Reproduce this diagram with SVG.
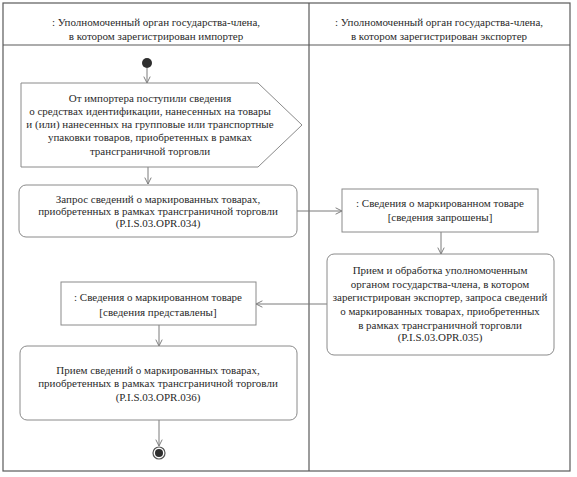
<svg xmlns="http://www.w3.org/2000/svg" width="577" height="477" viewBox="0 0 577 477">
<style>
.t{font-family:"Liberation Serif","Times New Roman",serif;font-size:11px;fill:#2a2a2a;text-anchor:middle}
.frame{fill:none;stroke:#5a5a5a;stroke-width:1.2}
.box{fill:#fff;stroke:#8a8a8a;stroke-width:1}
.c{fill:none;stroke:#7a7a7a;stroke-width:1}
</style>
<defs>
<marker id="arr" viewBox="0 0 10 10" refX="9" refY="5" markerWidth="8" markerHeight="8" orient="auto" markerUnits="userSpaceOnUse">
<path d="M1,1 L9,5 L1,9" fill="none" stroke="#7a7a7a" stroke-width="1.2"/>
</marker>
</defs>
<rect width="577" height="477" fill="#fff"/>
<g id="lanes">
<rect class="frame" x="3" y="3" width="567" height="468"/>
<line class="frame" x1="3" y1="45" x2="570" y2="45"/>
<line class="frame" x1="309" y1="3" x2="309" y2="471"/>
<text class="t" x="156" y="26">: Уполномоченный орган государства-члена,</text>
<text class="t" x="156" y="40">в котором зарегистрирован импортер</text>
<text class="t" x="439" y="26">: Уполномоченный орган государства-члена,</text>
<text class="t" x="439" y="40">в котором зарегистрирован экспортер</text>
</g>
<g id="connectors">
<line class="c" x1="147" y1="68" x2="147" y2="83" marker-end="url(#arr)"/>
<line class="c" x1="148" y1="167" x2="148" y2="184" marker-end="url(#arr)"/>
<line class="c" x1="297" y1="211" x2="342" y2="211" marker-end="url(#arr)"/>
<line class="c" x1="441" y1="232" x2="441" y2="254" marker-end="url(#arr)"/>
<line class="c" x1="327" y1="304" x2="256" y2="304" marker-end="url(#arr)"/>
<line class="c" x1="159" y1="325" x2="159" y2="346" marker-end="url(#arr)"/>
<line class="c" x1="159" y1="420" x2="159" y2="446" marker-end="url(#arr)"/>
</g>
<g id="start"><circle cx="147" cy="63" r="5" fill="#2e2e2e"/></g>
<g id="signal">
<path class="box" d="M21,83 L258,83 L302,125 L258,167 L21,167 Z"/>
<text class="t" x="150" y="102">От импортера поступили сведения</text>
<text class="t" x="150" y="115">о средствах идентификации, нанесенных на товары</text>
<text class="t" x="150" y="128">и (или) нанесенных на групповые или транспортные</text>
<text class="t" x="150" y="141">упаковки товаров, приобретенных в рамках</text>
<text class="t" x="150" y="155">трансграничной торговли</text>
</g>
<g id="opr034">
<rect class="box" x="19" y="185" width="278" height="52" rx="7"/>
<text class="t" x="158" y="203">Запрос сведений о маркированных товарах,</text>
<text class="t" x="158" y="215">приобретенных в рамках трансграничной торговли</text>
<text class="t" x="158" y="227">(P.I.S.03.OPR.034)</text>
</g>
<g id="obj-requested">
<rect class="box" x="342" y="189" width="196" height="43"/>
<text class="t" x="440" y="207">: Сведения о маркированном товаре</text>
<text class="t" x="440" y="221">[сведения запрошены]</text>
</g>
<g id="opr035">
<rect class="box" x="327" y="254" width="227" height="101" rx="7"/>
<text class="t" x="440" y="274">Прием и обработка уполномоченным</text>
<text class="t" x="440" y="288">органом государства-члена, в котором</text>
<text class="t" x="440" y="301">зарегистрирован экспортер, запроса сведений</text>
<text class="t" x="440" y="315">о маркированных товарах, приобретенных</text>
<text class="t" x="440" y="329">в рамках трансграничной торговли</text>
<text class="t" x="440" y="341">(P.I.S.03.OPR.035)</text>
</g>
<g id="obj-provided">
<rect class="box" x="61" y="282" width="195" height="43"/>
<text class="t" x="158" y="301">: Сведения о маркированном товаре</text>
<text class="t" x="158" y="316">[сведения представлены]</text>
</g>
<g id="opr036">
<rect class="box" x="20" y="346" width="277" height="74" rx="7"/>
<text class="t" x="158" y="374">Прием сведений о маркированных товарах,</text>
<text class="t" x="158" y="387">приобретенных в рамках трансграничной торговли</text>
<text class="t" x="158" y="401">(P.I.S.03.OPR.036)</text>
</g>
<g id="end">
<circle cx="159" cy="453" r="6" fill="#fff" stroke="#555" stroke-width="1.2"/>
<circle cx="159" cy="453" r="4" fill="#2e2e2e"/>
</g>
</svg>
